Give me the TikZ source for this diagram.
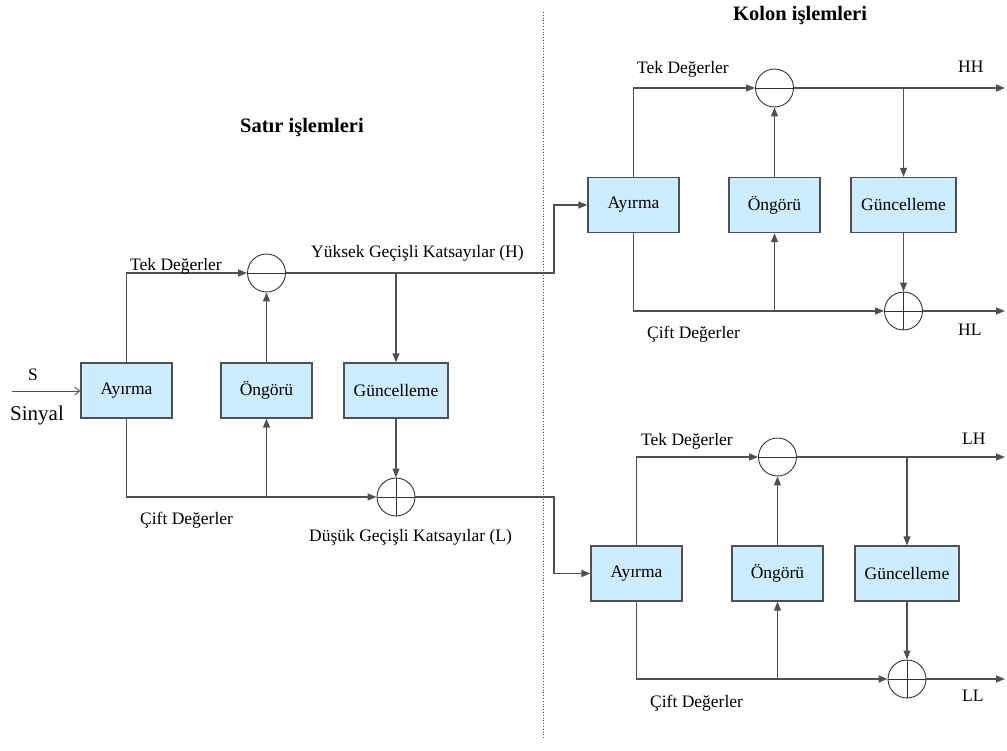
\documentclass[tikz,border=0pt]{standalone}
\usepackage{fontspec}
\setmainfont{Liberation Serif}
\usetikzlibrary{arrows.meta}
\definecolor{boxfill}{RGB}{204,236,255}
\definecolor{linegray}{RGB}{80,80,80}
\begin{document}
\begin{tikzpicture}[x=1pt,y=-1pt,
  stepbox/.style={draw=linegray,fill=boxfill,line width=1.3pt,minimum width=91pt,minimum height=55pt,inner sep=0pt,font=\fontsize{17.5}{20}\selectfont},
  minuscirc/.style={circle,draw=black!80,line width=0.9pt,minimum size=38pt,inner sep=0pt,
     path picture={\draw[black!80,line width=0.9pt] (path picture bounding box.west) -- (path picture bounding box.east);}},
  pluscirc/.style={circle,draw=black!80,line width=0.9pt,minimum size=38pt,inner sep=0pt,
     path picture={\draw[black!80,line width=0.9pt] (path picture bounding box.west) -- (path picture bounding box.east)
       (path picture bounding box.north) -- (path picture bounding box.south);}},
  conn/.style={draw=linegray,line width=1.3pt},
  arr/.style={conn,-{Triangle[length=9pt,width=7pt]}},
  lbl/.style={anchor=base west,inner sep=0pt,font=\fontsize{17.5}{20}\selectfont},
  title/.style={anchor=base west,inner sep=0pt,font=\fontsize{20.5}{24}\selectfont\bfseries}]
\useasboundingbox (0,0) rectangle (1007,751);

% divider
\coordinate (dtop) at (543,12);
\coordinate (dbot) at (543,738);
\draw[black!70,line width=0.8pt,dotted] (dtop) -- (dbot);

% titles
\node[title] (t1) at (240,133) {Satır işlemleri};
\node[title] (t2) at (733,21) {Kolon işlemleri};

% ---------- left: row operations ----------
\node[stepbox] (ay1) at (126.5,390.5) {Ayırma};
\node[stepbox] (og1) at (266.5,390.5) {Öngörü};
\node[stepbox,minimum width=104pt] (gu1) at (396,390.5) {Güncelleme};
\node[minuscirc] (m1) at (266.5,273) {};
\node[pluscirc] (p1) at (396,497) {};

\coordinate (sin) at (12,391);
\draw[linegray,line width=0.9pt,-{Straight Barb[length=5pt,width=8pt]}] (sin) -- (ay1.west |- sin);
\node[lbl] (s) at (28,381) {S};
\node[lbl,font=\fontsize{21}{24}\selectfont] (sinyal) at (10,420) {Sinyal};

\draw[arr] (ay1.north) |- (m1.west);
\draw[arr] (og1.north) -- (m1.south);
\draw[arr] (ay1.south) |- (p1.west);
\draw[arr] (og1.south |- p1) -- (og1.south);
\draw[arr] (gu1.south) -- (p1.north);
\coordinate (hb) at (554,273);
\coordinate (lb) at (554,497);

\node[lbl] (tek1) at (130,271) {Tek Değerler};
\node[lbl] (cift1) at (140,524) {Çift Değerler};
\node[lbl] (yuk) at (311,258) {Yüksek Geçişli Katsayılar (H)};
\node[lbl] (dus) at (309,541) {Düşük Geçişli Katsayılar (L)};

% ---------- upper right: HH / HL ----------
\node[stepbox] (ay2) at (633.5,205) {Ayırma};
\node[stepbox] (og2) at (774.5,205) {Öngörü};
\node[stepbox,minimum width=105pt] (gu2) at (903.5,205) {Güncelleme};
\node[minuscirc] (m2) at (774.5,88) {};
\node[pluscirc] (p2) at (903.5,311) {};
\coordinate (hh) at (1005,88);
\coordinate (hl) at (1005,311);

\draw[arr] (m1.east) -- (hb) |- (ay2.west);
\draw[arr] (gu1.north |- m1) -- (gu1.north);

\draw[arr] (ay2.north) |- (m2.west);
\draw[arr] (m2.east) -- (hh);
\draw[arr] (gu2.north |- m2) -- (gu2.north);
\draw[arr] (og2.north) -- (m2.south);
\draw[arr] (ay2.south) |- (p2.west);
\draw[arr] (og2.south |- p2) -- (og2.south);
\draw[arr] (gu2.south) -- (p2.north);
\draw[arr] (p2.east) -- (hl);

\node[lbl] (tek2) at (637,74) {Tek Değerler};
\node[lbl] (hhl) at (958,73) {HH};
\node[lbl] (cift2) at (647,338) {Çift Değerler};
\node[lbl] (hll) at (958,336) {HL};

% ---------- lower right: LH / LL ----------
\node[stepbox] (ay3) at (636.5,573.5) {Ayırma};
\node[stepbox] (og3) at (777.5,573.5) {Öngörü};
\node[stepbox,minimum width=104pt] (gu3) at (907,573.5) {Güncelleme};
\node[minuscirc] (m3) at (777.5,457) {};
\node[pluscirc] (p3) at (907,679) {};
\coordinate (lh) at (1005,457);
\coordinate (ll) at (1005,679);

\draw[arr] (p1.east) -- (lb) |- (ay3.west);

\draw[arr] (ay3.north) |- (m3.west);
\draw[arr] (m3.east) -- (lh);
\draw[arr] (gu3.north |- m3) -- (gu3.north);
\draw[arr] (og3.north) -- (m3.south);
\draw[arr] (ay3.south) |- (p3.west);
\draw[arr] (og3.south |- p3) -- (og3.south);
\draw[arr] (gu3.south) -- (p3.north);
\draw[arr] (p3.east) -- (ll);

\node[lbl] (tek3) at (641,445) {Tek Değerler};
\node[lbl] (lhl) at (962,444) {LH};
\node[lbl] (cift3) at (650,707) {Çift Değerler};
\node[lbl] (lll) at (962,701) {LL};
\end{tikzpicture}
\end{document}
